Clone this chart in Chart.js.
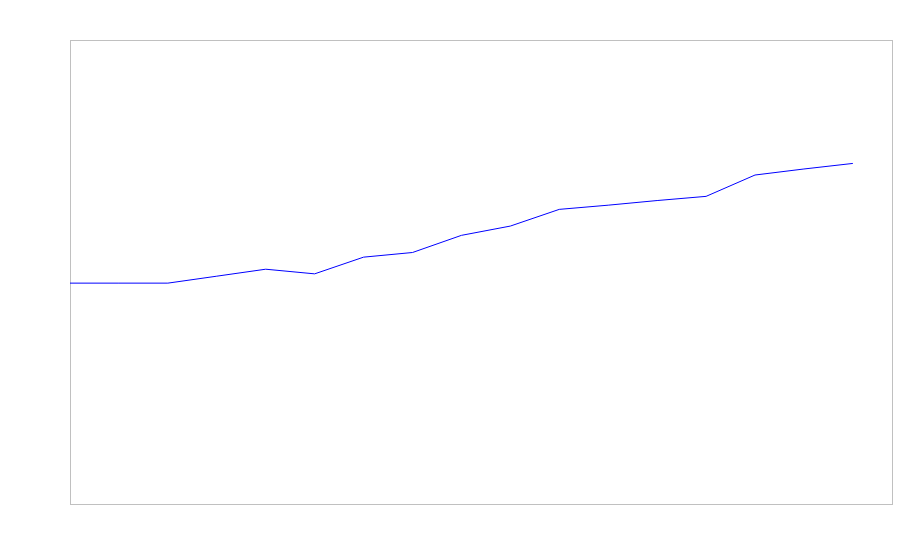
<!DOCTYPE html>
<html>
<head>
<meta charset="utf-8">
<script src="https://cdn.jsdelivr.net/npm/chart.js@4/dist/chart.umd.min.js"></script>
<style>
    html, body { margin: 0; padding: 0; background: #fff; }
    #wrap { width: 900px; height: 560px; }
</style>
</head>
<body>
<div id="wrap"><canvas id="lineChart" width="900" height="560"></canvas></div>
<script>
// Vị trí các điểm trên trục x (không có nhãn trong hình gốc)
const periods = [0, 1, 2, 3, 4, 5, 6, 7, 8, 9, 10, 11, 12, 13, 14, 15, 16];
// Giá trị ước lượng từ hình
const values = [47.6, 47.6, 47.6, 49.1, 50.6, 49.6, 53.2, 54.2, 57.9, 59.9, 63.5, 64.4, 65.4, 66.3, 70.9, 72.2, 73.4];

const xMin = 0;
const xMax = 16.8;
const yMin = 0;
const yMax = 100;

// Vẽ khung viền xám quanh vùng biểu đồ
const frameBorder = {
    id: 'frameBorder',
    beforeDatasetsDraw(chart) {
        const { ctx, chartArea } = chart;
        ctx.save();
        ctx.strokeStyle = '#c0c0c0';
        ctx.lineWidth = 1;
        ctx.strokeRect(chartArea.left + 0.5, chartArea.top + 0.5,
            chartArea.right - chartArea.left, chartArea.bottom - chartArea.top);
        ctx.restore();
    }
};

function drawChart() {
    const ctx = document.getElementById('lineChart').getContext('2d');
    new Chart(ctx, {
        type: 'line',
        data: {
            datasets: [{
                data: periods.map((p, i) => ({ x: p, y: values[i] })),
                borderColor: '#0000ff',
                borderWidth: 1,
                pointRadius: 0,
                tension: 0,
                fill: false
            }]
        },
        options: {
            responsive: false,
            animation: false,
            layout: {
                padding: { left: 70, top: 40, right: 8, bottom: 56 }
            },
            plugins: {
                legend: { display: false },
                tooltip: { enabled: false }
            },
            scales: {
                x: { type: 'linear', min: xMin, max: xMax, display: false },
                y: { min: yMin, max: yMax, display: false }
            }
        },
        plugins: [frameBorder]
    });
}

drawChart();
</script>
</body>
</html>
